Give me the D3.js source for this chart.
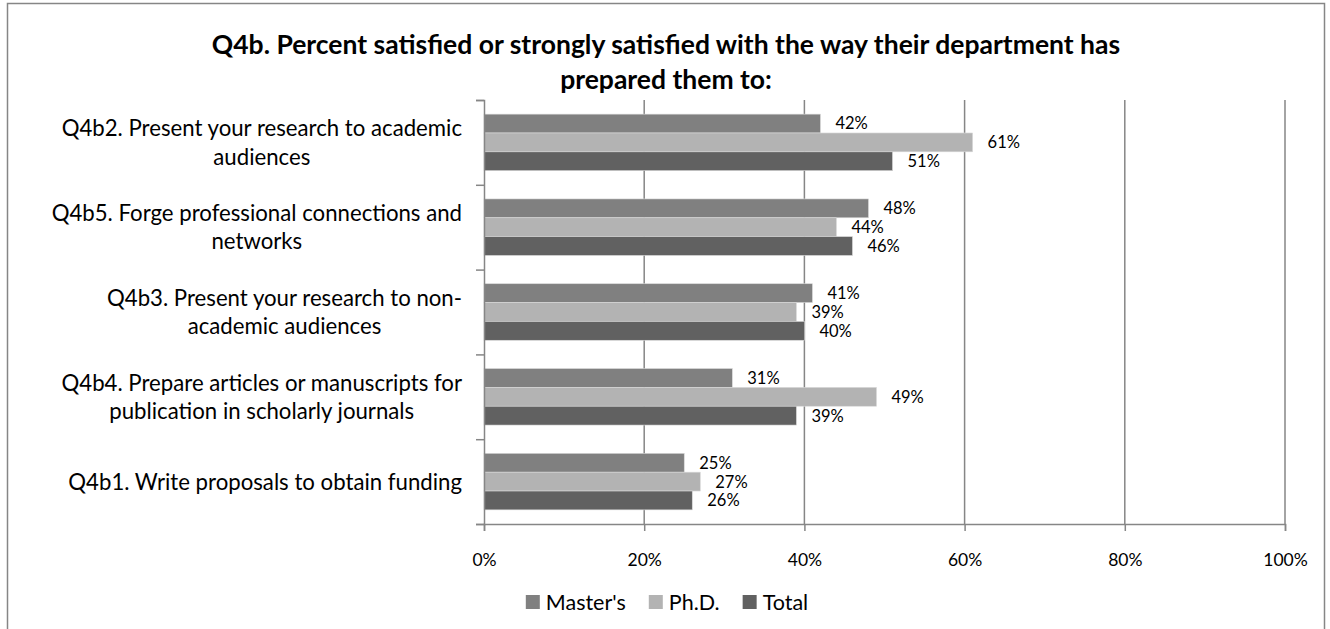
<!DOCTYPE html>
<html>
<head>
<meta charset="utf-8">
<script src="https://cdn.jsdelivr.net/npm/d3@7"></script>
<style>
  html, body { margin: 0; padding: 0; background: #fff; }
  svg { display: block; font-family: Lato, "Open Sans", sans-serif; }
</style>
</head>
<body>
<svg id="chart" width="1330" height="629"></svg>
<script>
// Survey items, listed top to bottom as drawn (line breaks marked with \n)
const categories = [
  "Q4b2. Present your research to academic\naudiences",
  "Q4b5. Forge professional connections and\nnetworks",
  "Q4b3. Present your research to non-\nacademic audiences",
  "Q4b4. Prepare articles or manuscripts for\npublication in scholarly journals",
  "Q4b1. Write proposals to obtain funding"
];
const seriesNames = ["Master's", "Ph.D.", "Total"];
const mastersValues = [42, 48, 41, 31, 25];
const phdValues = [61, 44, 39, 49, 27];
const totalValues = [51, 46, 40, 39, 26];
const xTickValues = [0, 20, 40, 60, 80, 100];
const titleLines = [
  "Q4b. Percent satisfied or strongly satisfied with the way their department has",
  "prepared them to:"
];
const seriesColors = ["#808080", "#b3b3b3", "#616161"];

const seriesValues = [mastersValues, phdValues, totalValues];
const rows = categories.map((c, i) => ({
  category: c,
  values: seriesNames.map((s, k) => ({ series: s, value: seriesValues[k][i] }))
}));

const svg = d3.select("#chart");
const plot = { left: 484, right: 1285, top: 100, bottom: 524 };
const axisColor = "#868686";

// Chart frame
svg.append("rect")
  .attr("x", 7.5).attr("y", 3.5)
  .attr("width", 1317).attr("height", 640)
  .attr("fill", "#fff")
  .attr("stroke", axisColor).attr("stroke-width", 1.5);

// Title
const title = svg.append("text")
  .attr("text-anchor", "middle")
  .attr("font-weight", "bold")
  .attr("font-size", 26.5)
  .attr("fill", "#000");
titleLines.forEach((t, i) => {
  title.append("tspan").attr("x", 666).attr("y", 54 + i * 35).text(t);
});

// Scales
const x = d3.scaleLinear().domain([0, 100]).range([plot.left, plot.right]);
const y = d3.scaleBand().domain(categories).range([plot.top, plot.bottom]).padding(0);
const inner = d3.scaleBand().domain(seriesNames).range([0, y.bandwidth()])
  .paddingInner(0).paddingOuter(0.75);
const color = d3.scaleOrdinal().domain(seriesNames).range(seriesColors);

// Vertical gridlines
svg.append("g")
  .selectAll("line")
  .data(xTickValues.filter(d => d > 0))
  .join("line")
  .attr("x1", d => x(d)).attr("x2", d => x(d))
  .attr("y1", plot.top).attr("y2", plot.bottom)
  .attr("stroke", axisColor).attr("stroke-width", 1.5);

// Bars
const groups = svg.append("g")
  .selectAll("g")
  .data(rows)
  .join("g")
  .attr("transform", d => `translate(0,${y(d.category)})`);

groups.selectAll("rect")
  .data(d => d.values)
  .join("rect")
  .attr("x", x(0))
  .attr("y", d => inner(d.series))
  .attr("width", d => x(d.value) - x(0))
  .attr("height", inner.bandwidth())
  .attr("fill", d => color(d.series))
  .attr("stroke", "#d9d9d9").attr("stroke-width", 0.6);

// Value labels
groups.selectAll("text")
  .data(d => d.values)
  .join("text")
  .attr("x", d => x(d.value) + 15)
  .attr("y", d => inner(d.series) + inner.bandwidth() / 2)
  .attr("dy", "0.36em")
  .attr("font-size", 16.5)
  .attr("fill", "#000")
  .text(d => d.value + "%");

// X axis
const xAxis = svg.append("g")
  .attr("transform", `translate(0,${plot.bottom})`)
  .call(d3.axisBottom(x).tickValues(xTickValues).tickSize(7).tickPadding(23)
    .tickFormat(d => d + "%"));
xAxis.select(".domain").attr("stroke", axisColor).attr("stroke-width", 1.5);
xAxis.selectAll(".tick line").attr("stroke", axisColor).attr("stroke-width", 1.5);
xAxis.selectAll(".tick text")
  .attr("font-size", 17.5).attr("font-family", "Lato, sans-serif").attr("fill", "#000");

// Y axis: ticks at the category boundaries
const yEdges = d3.scaleLinear().domain([0, categories.length]).range([plot.top, plot.bottom]);
const yAxis = svg.append("g")
  .attr("transform", `translate(${plot.left},0)`)
  .call(d3.axisLeft(yEdges).tickValues(d3.range(categories.length + 1)).tickSize(8)
    .tickFormat(""));
yAxis.select(".domain").attr("stroke", axisColor).attr("stroke-width", 1.5);
yAxis.selectAll(".tick line").attr("stroke", axisColor).attr("stroke-width", 1.5);

// Category labels: right-aligned block, lines centred within it
const labelRight = 462;
const lineGap = 28.5;
const catG = svg.append("g").attr("font-size", 22.2).attr("fill", "#000");
categories.forEach(c => {
  const lines = c.split("\n");
  const t = catG.append("text").attr("text-anchor", "middle");
  const cy = y(c) + y.bandwidth() / 2;
  const spans = lines.map((ln, i) =>
    t.append("tspan")
      .attr("y", cy + (i - (lines.length - 1) / 2) * lineGap)
      .attr("dy", "0.36em")
      .text(ln));
  const maxW = d3.max(spans, s => s.node().getComputedTextLength());
  spans.forEach(s => s.attr("x", labelRight - maxW / 2));
});

// Legend
const legend = svg.append("g").attr("font-size", 21.5);
let lx = 0;
seriesNames.forEach(name => {
  const g = legend.append("g").attr("transform", `translate(${lx},0)`);
  g.append("rect").attr("x", 0).attr("y", -7).attr("width", 14).attr("height", 14)
    .attr("fill", color(name));
  const tx = g.append("text").attr("x", 20).attr("dy", "0.36em").attr("fill", "#000").text(name);
  lx += 20 + tx.node().getComputedTextLength() + 23;
});
const legendWidth = lx - 23;
legend.attr("transform", `translate(${667 - legendWidth / 2},602)`);
</script>
</body>
</html>
